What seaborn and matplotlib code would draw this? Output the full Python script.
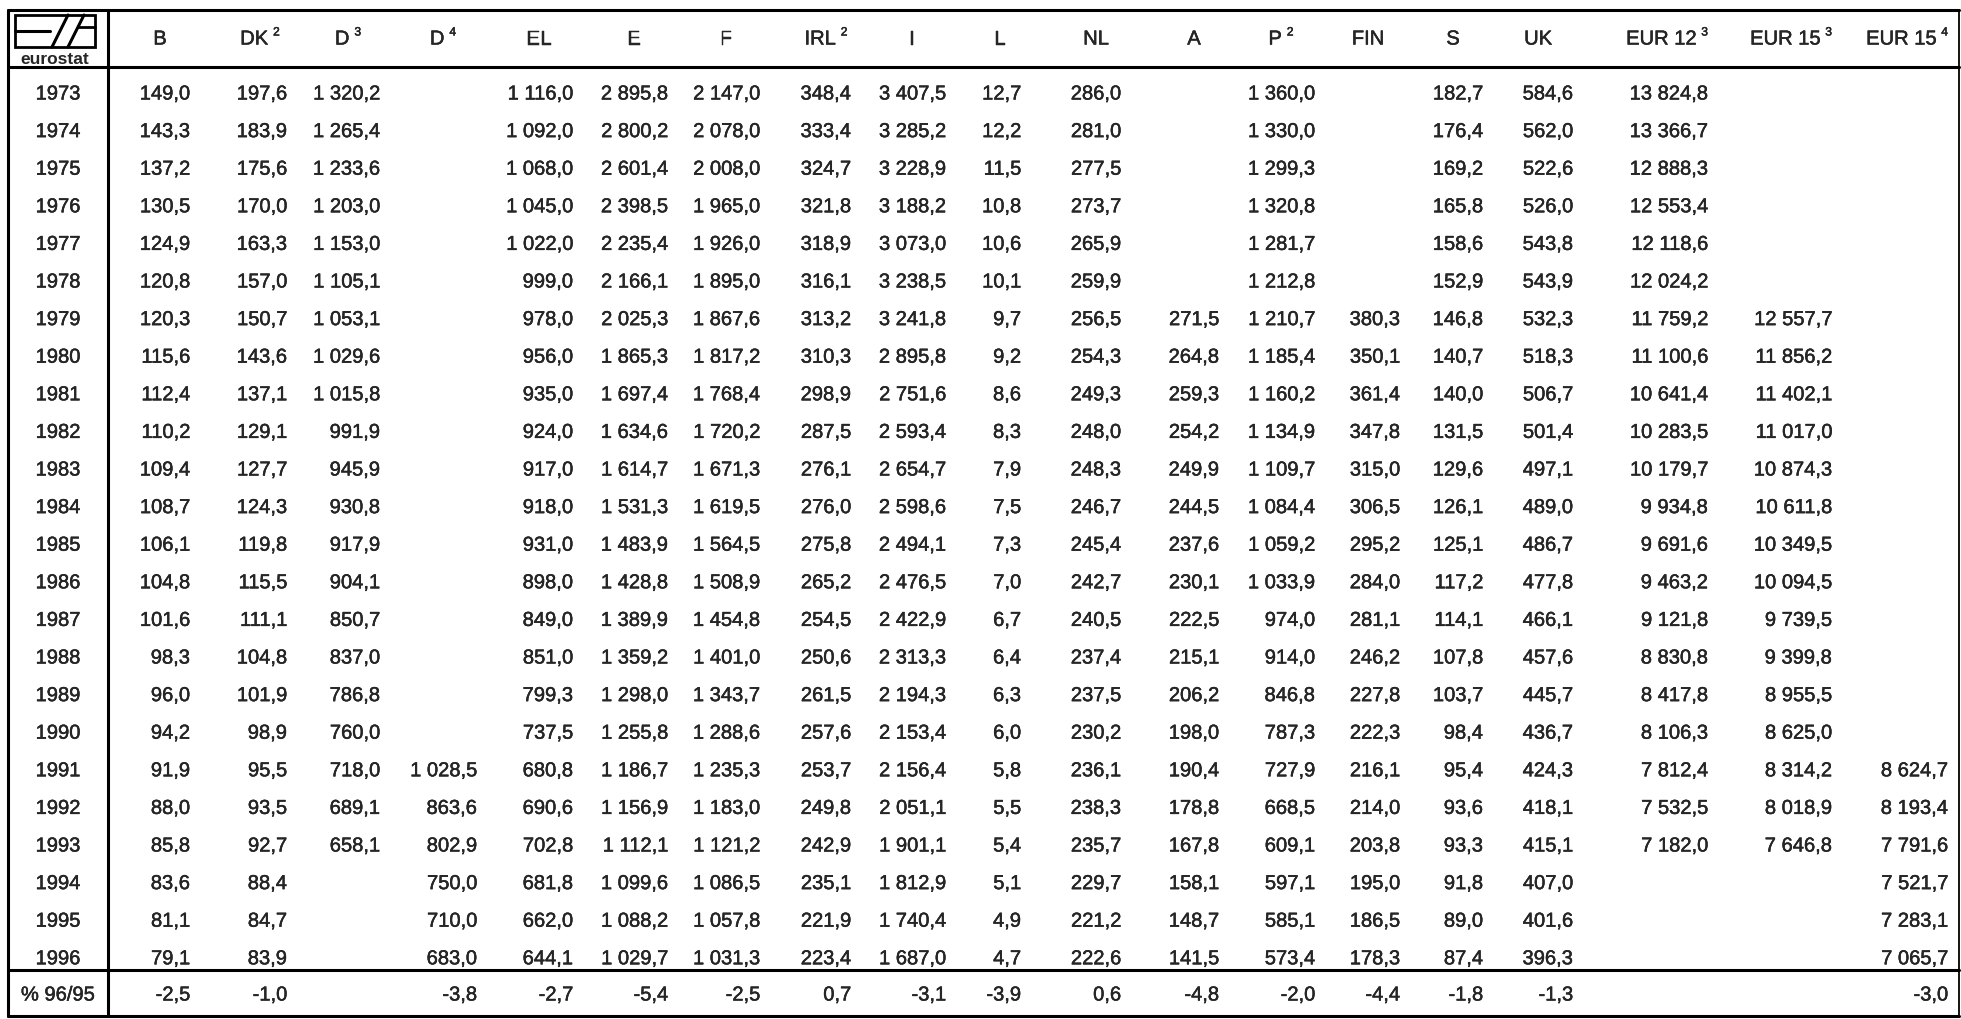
import matplotlib
matplotlib.use("Agg")
import matplotlib.pyplot as plt
import matplotlib.patheffects as pe
from matplotlib import font_manager
from matplotlib.patches import Rectangle
import seaborn as sns
import pandas as pd

# Table values (None = no data)
years = list(range(1973, 1997))
columns = ['B', 'DK', 'D', 'D', 'EL', 'E', 'F', 'IRL', 'I', 'L', 'NL', 'A', 'P',
           'FIN', 'S', 'UK', 'EUR 12', 'EUR 15', 'EUR 15']
col_notes = ['', '2', '3', '4', '', '', '', '2', '', '', '', '', '2',
             '', '', '', '3', '3', '4']
change_label = '% 96/95'

B = [149.0, 143.3, 137.2, 130.5, 124.9, 120.8, 120.3, 115.6, 112.4, 110.2, 109.4, 108.7,
     106.1, 104.8, 101.6, 98.3, 96.0, 94.2, 91.9, 88.0, 85.8, 83.6, 81.1, 79.1]
DK = [197.6, 183.9, 175.6, 170.0, 163.3, 157.0, 150.7, 143.6, 137.1, 129.1, 127.7, 124.3,
      119.8, 115.5, 111.1, 104.8, 101.9, 98.9, 95.5, 93.5, 92.7, 88.4, 84.7, 83.9]
D_3 = [1320.2, 1265.4, 1233.6, 1203.0, 1153.0, 1105.1, 1053.1, 1029.6, 1015.8, 991.9, 945.9, 930.8,
       917.9, 904.1, 850.7, 837.0, 786.8, 760.0, 718.0, 689.1, 658.1, None, None, None]
D_4 = [None] * 18 + [1028.5, 863.6, 802.9, 750.0, 710.0, 683.0]
EL = [1116.0, 1092.0, 1068.0, 1045.0, 1022.0, 999.0, 978.0, 956.0, 935.0, 924.0, 917.0, 918.0,
      931.0, 898.0, 849.0, 851.0, 799.3, 737.5, 680.8, 690.6, 702.8, 681.8, 662.0, 644.1]
E = [2895.8, 2800.2, 2601.4, 2398.5, 2235.4, 2166.1, 2025.3, 1865.3, 1697.4, 1634.6, 1614.7, 1531.3,
     1483.9, 1428.8, 1389.9, 1359.2, 1298.0, 1255.8, 1186.7, 1156.9, 1112.1, 1099.6, 1088.2, 1029.7]
F = [2147.0, 2078.0, 2008.0, 1965.0, 1926.0, 1895.0, 1867.6, 1817.2, 1768.4, 1720.2, 1671.3, 1619.5,
     1564.5, 1508.9, 1454.8, 1401.0, 1343.7, 1288.6, 1235.3, 1183.0, 1121.2, 1086.5, 1057.8, 1031.3]
IRL = [348.4, 333.4, 324.7, 321.8, 318.9, 316.1, 313.2, 310.3, 298.9, 287.5, 276.1, 276.0,
       275.8, 265.2, 254.5, 250.6, 261.5, 257.6, 253.7, 249.8, 242.9, 235.1, 221.9, 223.4]
I = [3407.5, 3285.2, 3228.9, 3188.2, 3073.0, 3238.5, 3241.8, 2895.8, 2751.6, 2593.4, 2654.7, 2598.6,
     2494.1, 2476.5, 2422.9, 2313.3, 2194.3, 2153.4, 2156.4, 2051.1, 1901.1, 1812.9, 1740.4, 1687.0]
L = [12.7, 12.2, 11.5, 10.8, 10.6, 10.1, 9.7, 9.2, 8.6, 8.3, 7.9, 7.5,
     7.3, 7.0, 6.7, 6.4, 6.3, 6.0, 5.8, 5.5, 5.4, 5.1, 4.9, 4.7]
NL = [286.0, 281.0, 277.5, 273.7, 265.9, 259.9, 256.5, 254.3, 249.3, 248.0, 248.3, 246.7,
      245.4, 242.7, 240.5, 237.4, 237.5, 230.2, 236.1, 238.3, 235.7, 229.7, 221.2, 222.6]
A = [None] * 6 + [271.5, 264.8, 259.3, 254.2, 249.9, 244.5, 237.6, 230.1, 222.5, 215.1,
                  206.2, 198.0, 190.4, 178.8, 167.8, 158.1, 148.7, 141.5]
P = [1360.0, 1330.0, 1299.3, 1320.8, 1281.7, 1212.8, 1210.7, 1185.4, 1160.2, 1134.9, 1109.7, 1084.4,
     1059.2, 1033.9, 974.0, 914.0, 846.8, 787.3, 727.9, 668.5, 609.1, 597.1, 585.1, 573.4]
FIN = [None] * 6 + [380.3, 350.1, 361.4, 347.8, 315.0, 306.5, 295.2, 284.0, 281.1, 246.2,
                    227.8, 222.3, 216.1, 214.0, 203.8, 195.0, 186.5, 178.3]
S = [182.7, 176.4, 169.2, 165.8, 158.6, 152.9, 146.8, 140.7, 140.0, 131.5, 129.6, 126.1,
     125.1, 117.2, 114.1, 107.8, 103.7, 98.4, 95.4, 93.6, 93.3, 91.8, 89.0, 87.4]
UK = [584.6, 562.0, 522.6, 526.0, 543.8, 543.9, 532.3, 518.3, 506.7, 501.4, 497.1, 489.0,
      486.7, 477.8, 466.1, 457.6, 445.7, 436.7, 424.3, 418.1, 415.1, 407.0, 401.6, 396.3]
EUR12 = [13824.8, 13366.7, 12888.3, 12553.4, 12118.6, 12024.2, 11759.2, 11100.6, 10641.4, 10283.5,
         10179.7, 9934.8, 9691.6, 9463.2, 9121.8, 8830.8, 8417.8, 8106.3, 7812.4, 7532.5, 7182.0,
         None, None, None]
EUR15_3 = [None] * 6 + [12557.7, 11856.2, 11402.1, 11017.0, 10874.3, 10611.8, 10349.5, 10094.5,
                        9739.5, 9399.8, 8955.5, 8625.0, 8314.2, 8018.9, 7646.8, None, None, None]
EUR15_4 = [None] * 18 + [8624.7, 8193.4, 7791.6, 7521.7, 7283.1, 7065.7]

pct_change = [-2.5, -1.0, None, -3.8, -2.7, -5.4, -2.5, 0.7, -3.1, -3.9, 0.6, -4.8, -2.0,
              -4.4, -1.8, -1.3, None, None, -3.0]

series = [B, DK, D_3, D_4, EL, E, F, IRL, I, L, NL, A, P, FIN, S, UK, EUR12, EUR15_3, EUR15_4]

# Layout (pixel coordinates)
W, H = 1961, 1019
value_right = [190, 287, 380, 477, 573, 668, 760, 851, 946, 1021, 1121, 1219, 1315,
               1400, 1483, 1573, 1708, 1832, 1948]
header_center = [160, 260, 348, 443, 539, 634, 726, 826, 912, 1000, 1096, 1194, 1281,
                 1368, 1453, 1538, None, None, None]
year_x = 58
left, right, top, bottom = 8, 1959, 10, 1016
head_line, col_line, foot_line = 67, 108, 970
row0, row_step = 91, 37.6
foot_y = 992
header_y = 36


def fmt(v):
    if v is None or pd.isna(v):
        return ''
    return f"{v:,.1f}".replace(',', ' ').replace('.', ',')


table = pd.DataFrame({f"c{i}": s for i, s in enumerate(series)}, index=years)

sns.set_theme(style="white")
names = {f.name for f in font_manager.fontManager.ttflist}
if 'Liberation Sans Narrow' in names:
    family, fs = 'Liberation Sans Narrow', 17.0
else:
    family, fs = 'Liberation Sans', 14.5
plt.rcParams['font.family'] = [family, 'DejaVu Sans']

# a touch heavier than plain regular, like the scanned print
ink = [pe.withStroke(linewidth=0.3, foreground='black')]

fig = plt.figure(figsize=(W / 100, H / 100), dpi=100)
fig.patch.set_facecolor('white')
ax = fig.add_axes([0, 0, 1, 1])
ax.set_xlim(0, W)
ax.set_ylim(H, 0)
ax.axis('off')

lw_thick = 2.2
lw_thin = 1.3
ax.plot([left, right], [top, top], color='black', lw=lw_thick)
ax.plot([left, right], [bottom, bottom], color='black', lw=lw_thick)
ax.plot([left, left], [top, bottom], color='black', lw=lw_thick)
ax.plot([right, right], [top, bottom], color='black', lw=lw_thin)
ax.plot([left, right], [head_line, head_line], color='black', lw=lw_thick)
ax.plot([left, right], [foot_line, foot_line], color='black', lw=lw_thick)
ax.plot([col_line, col_line], [top, bottom], color='black', lw=lw_thick)

# eurostat logo
ax.add_patch(Rectangle((15, 15), 80, 32, fill=False, lw=2.0, color='black'))
ax.plot([15, 50], [31, 31], color='black', lw=2.2)
ax.plot([52, 68], [47, 15], color='black', lw=2.2)
ax.plot([68, 84], [47, 15], color='black', lw=2.2)
ax.plot([78, 95], [27, 27], color='black', lw=2.0)
ax.text(55, 64, 'eurostat', ha='center', va='baseline', fontsize=12.5,
        fontweight='bold', family=['Liberation Sans', 'DejaVu Sans'])

fig.canvas.draw()
renderer = fig.canvas.get_renderer()
inv = ax.transData.inverted()


def text_width(t):
    bb = t.get_window_extent(renderer)
    x0 = inv.transform((bb.x0, bb.y0))[0]
    x1 = inv.transform((bb.x1, bb.y0))[0]
    return x1 - x0


base_dy = 8.5
# headers
for i, (name, note) in enumerate(zip(columns, col_notes)):
    t = ax.text(0, header_y + base_dy, name, ha='left', va='baseline', fontsize=fs,
                path_effects=ink)
    wb = text_width(t)
    s = None
    ws = 0
    gap = 5
    if note:
        s = ax.text(0, header_y + base_dy - 9, note, ha='left', va='baseline',
                    fontsize=fs * 0.6, path_effects=ink)
        ws = text_width(s)
    total = wb + (gap + ws if note else 0)
    if header_center[i] is None:
        x0 = value_right[i] - total
    else:
        x0 = header_center[i] - total / 2
    t.set_x(x0)
    if s is not None:
        s.set_x(x0 + wb + gap)

# body
for r, yr in enumerate(years):
    y = row0 + r * row_step + base_dy
    ax.text(year_x, y, str(yr), ha='center', va='baseline', fontsize=fs, path_effects=ink)
    for c in range(len(series)):
        txt = fmt(table.iloc[r, c])
        if txt:
            ax.text(value_right[c], y, txt, ha='right', va='baseline', fontsize=fs,
                    path_effects=ink)

# change row
ax.text(year_x, foot_y + base_dy, change_label, ha='center', va='baseline', fontsize=fs,
        path_effects=ink)
for c, v in enumerate(pct_change):
    txt = fmt(v)
    if txt:
        ax.text(value_right[c], foot_y + base_dy, txt, ha='right', va='baseline', fontsize=fs,
                path_effects=ink)

fig.savefig('out.png', dpi=100, facecolor='white')
